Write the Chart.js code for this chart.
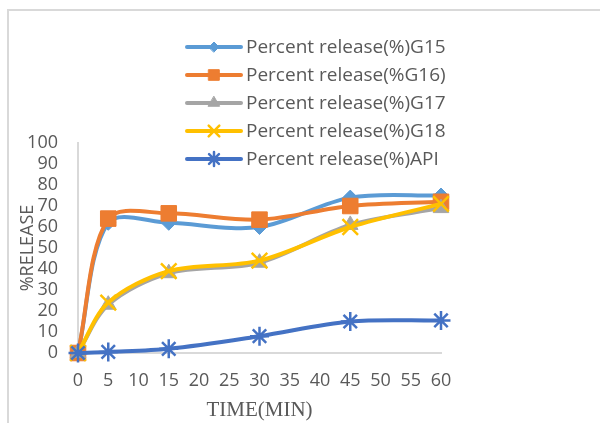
<!DOCTYPE html>
<html>
<head>
<meta charset="utf-8">
<script src="https://cdn.jsdelivr.net/npm/chart.js@4/dist/chart.umd.min.js"></script>
<style>
  html, body { margin: 0; padding: 0; background: #fff; }
  #wrap { position: relative; width: 600px; height: 423px; }
</style>
</head>
<body>
<div id="wrap"><canvas id="c" width="600" height="423"></canvas></div>
<script>
// Sampling times (min) and cumulative release (%) for each formulation
const times = [0, 5, 15, 30, 45, 60];
const g15 = [0, 62, 62, 60, 74, 75];
const g16 = [0, 64, 66.5, 63.5, 70, 72];
const g17 = [0, 23, 38, 43, 61, 69];
const g18 = [0, 24, 39, 44, 60, 71];
const api = [0, 0.5, 2, 8, 15, 15.5];

const seriesNames = [
  'Percent release(%)G15',
  'Percent release(%G16)',
  'Percent release(%)G17',
  'Percent release(%)G18',
  'Percent release(%)API'
];

const xTicks = [0, 5, 10, 15, 20, 25, 30, 35, 40, 45, 50, 55, 60];
const yTicks = [0, 10, 20, 30, 40, 50, 60, 70, 80, 90, 100];

const TEXT = '#595959';
const AXIS = '#D9D9D9';
const SANS = '"Open Sans", "Liberation Sans", sans-serif';

function pts(vals) { return times.map((t, i) => ({ x: t, y: vals[i] })); }

function series(label, vals, color, style, radius, legendRadius, order) {
  const thin = style === 'crossRot' || style === 'star';
  return {
    label, data: pts(vals),
    borderColor: color, backgroundColor: color,
    borderWidth: 4, pointStyle: style, pointRadius: radius,
    legendRadius,
    pointBorderColor: color, pointBackgroundColor: color,
    pointBorderWidth: thin ? 2.5 : 1,
    tension: 0.32, cubicInterpolationMode: 'default',
    clip: false,
    order
  };
}

const datasets = [
  series(seriesNames[0], g15, '#5B9BD5', 'rectRot', 7.5, 5, 4),
  series(seriesNames[1], g16, '#ED7D31', 'rect', 11, 7.5, 3),
  series(seriesNames[2], g17, '#A5A5A5', 'triangle', 9, 6.5, 2),
  series(seriesNames[3], g18, '#FFC000', 'crossRot', 11, 7.5, 1),
  series(seriesNames[4], api, '#4472C4', 'star', 9.5, 7, 0)
];

// Outer frame and the stacked legend over the upper plot area
const decor = {
  id: 'decor',
  beforeDraw(chart) {
    const ctx = chart.ctx;
    ctx.save();
    ctx.strokeStyle = AXIS;
    ctx.lineWidth = 2;
    ctx.beginPath();
    ctx.moveTo(8, 423);
    ctx.lineTo(8, 10);
    ctx.lineTo(600, 10);
    ctx.stroke();
    ctx.restore();
  },
  afterDraw(chart) {
    const ctx = chart.ctx;
    ctx.save();
    const x0 = 187, x1 = 241, tx = 246, y0 = 47, dy = 28;
    chart.data.datasets.forEach((ds, i) => {
      const y = y0 + i * dy;
      ctx.strokeStyle = ds.borderColor;
      ctx.lineWidth = 4;
      ctx.lineCap = 'round';
      ctx.beginPath();
      ctx.moveTo(x0, y);
      ctx.lineTo(x1, y);
      ctx.stroke();
      ctx.fillStyle = ds.pointBackgroundColor;
      ctx.strokeStyle = ds.pointBorderColor;
      ctx.lineWidth = ds.pointBorderWidth;
      Chart.helpers.drawPoint(ctx, { pointStyle: ds.pointStyle, radius: ds.legendRadius, rotation: 0, borderWidth: ds.pointBorderWidth }, (x0 + x1) / 2, y);
      ctx.fillStyle = TEXT;
      ctx.font = '19px ' + SANS;
      ctx.textBaseline = 'middle';
      ctx.textAlign = 'left';
      ctx.fillText(ds.label, tx, y + 1);
    });
    ctx.restore();
  }
};

new Chart(document.getElementById('c'), {
  type: 'line',
  data: { datasets },
  plugins: [decor],
  options: {
    responsive: false,
    animation: false,
    layout: { padding: { left: 0, top: 143, right: 159, bottom: 0 } },
    plugins: { legend: { display: false }, tooltip: { enabled: false } },
    scales: {
      x: {
        type: 'linear', min: 0, max: 60,
        afterBuildTicks(scale) { scale.ticks = xTicks.map(v => ({ value: v })); },
        afterFit(scale) { scale.height = 70; },
        grid: { display: false, drawTicks: false },
        border: { display: true, color: AXIS, width: 2 },
        ticks: { color: TEXT, padding: 17, maxRotation: 0, autoSkip: false,
                 font: { family: SANS, size: 18 } },
        title: { display: true, text: 'TIME(MIN)', color: TEXT,
                 font: { family: '"Liberation Serif", "DejaVu Serif", serif', size: 21 },
                 padding: { top: 0, bottom: 0 } }
      },
      y: {
        min: 0, max: 100,
        afterBuildTicks(scale) { scale.ticks = yTicks.map(v => ({ value: v })); },
        afterFit(scale) { scale.width = 78; },
        grid: { display: false, drawTicks: false },
        border: { display: true, color: AXIS, width: 2 },
        ticks: { color: TEXT, padding: 20, autoSkip: false,
                 font: { family: SANS, size: 18 } },
        title: { display: true, text: '%RELEASE', color: TEXT,
                 font: { family: SANS, size: 18 },
                 padding: { top: 17, bottom: 0 } }
      }
    }
  }
});
</script>
</body>
</html>
